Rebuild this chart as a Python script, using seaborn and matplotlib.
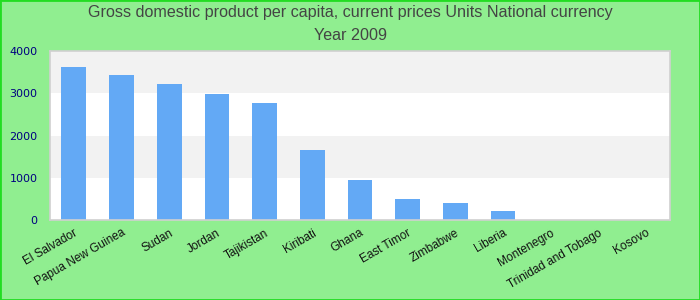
import matplotlib
matplotlib.use("Agg")
import matplotlib.pyplot as plt
import seaborn as sns
import pandas as pd

countries = ["El Salvador", "Papua New Guinea", "Sudan", "Jordan", "Tajikistan", "Kiribati",
             "Ghana", "East Timor", "Zimbabwe", "Liberia", "Montenegro",
             "Trinidad and Tobago", "Kosovo"]
values = [3621, 3432, 3219, 2982, 2769, 1657, 947, 497, 402, 213, 0, 0, 0]
yticks = [0, 1000, 2000, 3000, 4000]

df = pd.DataFrame({"country": countries, "value": values})

sns.set_theme(style="white")
plt.rcParams['font.family'] = ['Liberation Sans', 'DejaVu Sans']

fig = plt.figure(figsize=(7, 3), dpi=100, facecolor="#90ee90")
ax = fig.add_axes([50/700, 1-220/300, 620/700, 169/300])
ax.set_facecolor("white")

for i, (lo, hi) in enumerate(zip(yticks[:-1], yticks[1:])):
    if i % 2 == 1:
        ax.axhspan(lo, hi, color="#f2f2f2", zorder=0, lw=0)

sns.barplot(data=df, x="country", y="value", color="#63a9f5", saturation=1,
            width=0.52, ax=ax, zorder=2, linewidth=0, edgecolor="none")

ax.set_ylim(0, 4000)
ax.set_xlim(-0.5, len(countries) - 0.5)
ax.set_yticks(yticks)
ax.set_yticklabels([str(t) for t in yticks], color="#000080", fontsize=8,
                   family=['DejaVu Sans'])
ax.tick_params(axis="y", length=0, pad=9)
ax.tick_params(axis="x", length=0, pad=5)
ax.set_xticks(range(len(countries)))
ax.set_xticklabels(countries, rotation=30, ha="right", rotation_mode="anchor",
                   fontsize=8.5, color="#111111", family=['Liberation Sans', 'DejaVu Sans'])
ax.set_xlabel("")
ax.set_ylabel("")
for s in ax.spines.values():
    s.set_color("#d0d0d0")
    s.set_linewidth(1.2)

fig.text(0.5, 1-13/300, "Gross domestic product per capita, current prices Units National currency",
         ha="center", va="center", fontsize=11.6, color="#444444")
fig.text(0.5, 1-36/300, "Year 2009", ha="center", va="center", fontsize=11.6, color="#444444")

border = plt.Rectangle((0, 0), 1, 1, transform=fig.transFigure, fill=False,
                       edgecolor="#22dd22", lw=2)
fig.patches.append(border)

fig.savefig("out.png", dpi=100, facecolor=fig.get_facecolor())
